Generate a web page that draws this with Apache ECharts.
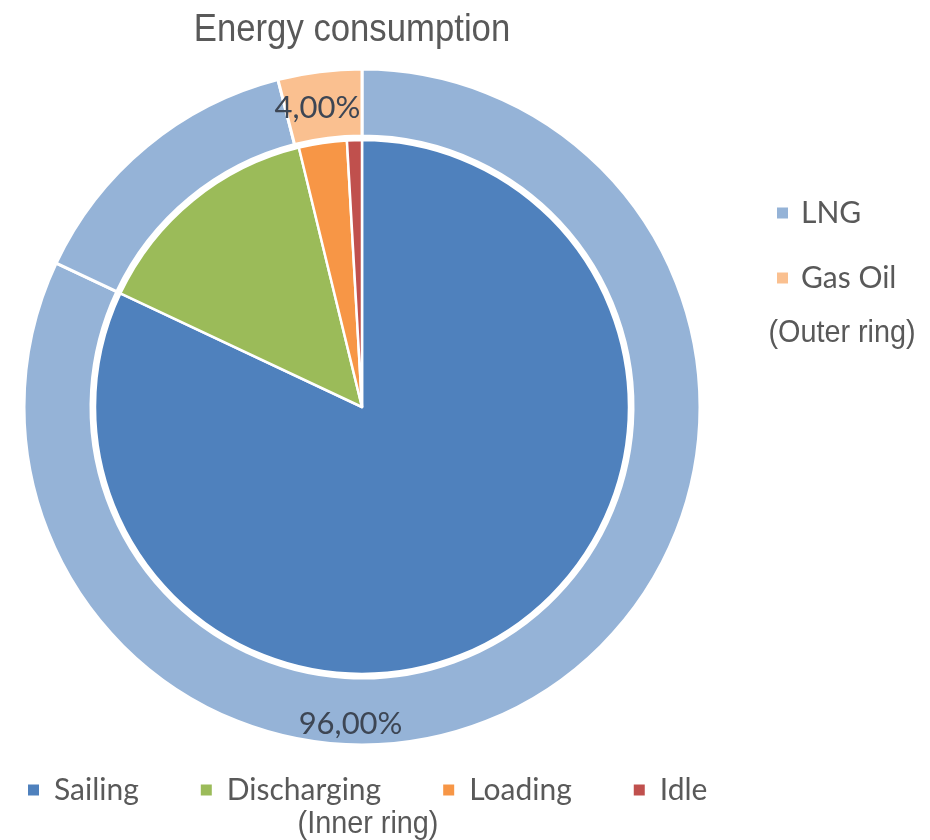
<!DOCTYPE html>
<html>
<head>
<meta charset="utf-8">
<script src="https://cdn.jsdelivr.net/npm/echarts@6/dist/echarts.min.js"></script>
<style>
html,body{margin:0;padding:0;background:#fff;}
#c{width:930px;height:840px;}
</style>
</head>
<body>
<div id="c"></div>
<script>
// Inner ring (operating phases)
var innerNames = ['Sailing', 'Discharging', 'Loading', 'Idle'];
var innerValues = [82.0, 14.2, 2.9, 0.9];
var innerColors = ['#4F81BD', '#9BBB59', '#F79646', '#C0504D'];

// Outer ring (fuel type) – LNG drawn in two segments as in the original
var outerNames = ['LNG', 'LNG', 'Gas Oil'];
var outerValues = [82.0, 14.0, 4.0];
var outerColors = ['#95B3D7', '#95B3D7', '#FAC090'];

// Fuel totals used for the ring labels
var fuelNames = ['LNG', 'Gas Oil'];
var fuelValues = [96.0, 4.0];

var titleText = 'Energy consumption';
var outerNote = '(Outer ring)';
var innerNote = '(Inner ring)';

var fmt = function (v) { return v.toFixed(2).replace('.', ',') + '%'; };
var fuelTotal = fuelValues.reduce(function (a, b) { return a + b; }, 0);

var chart = echarts.init(document.getElementById('c'), null, {renderer: 'canvas'});

var center = [362, 407];
var narrowFont = 'Liberation Sans, Arial, sans-serif';

chart.setOption({
  backgroundColor: '#ffffff',
  animation: false,
  graphic: [
    {
      type: 'text', x: 352, y: 30, scaleX: 0.89, silent: true,
      style: {text: titleText, fontFamily: narrowFont, fontSize: 39, fill: '#595959', align: 'center', verticalAlign: 'middle'}
    },
    {
      type: 'text', x: 842, y: 333, scaleX: 0.9, silent: true,
      style: {text: outerNote, fontFamily: narrowFont, fontSize: 32, fill: '#595959', align: 'center', verticalAlign: 'middle'}
    },
    {
      type: 'text', x: 368, y: 824, scaleX: 0.9, silent: true,
      style: {text: innerNote, fontFamily: narrowFont, fontSize: 32, fill: '#595959', align: 'center', verticalAlign: 'middle'}
    }
  ],
  legend: [
    {
      data: ['LNG', 'Gas Oil'],
      orient: 'vertical',
      left: 770, top: 193,
      itemWidth: 13, itemHeight: 13, itemGap: 35,
      icon: 'rect',
      textStyle: {fontFamily: 'Lato', fontSize: 30, color: '#595959', padding: [0, 0, 0, 7]}
    },
    {
      data: innerNames,
      orient: 'horizontal',
      left: 21, top: 770,
      itemWidth: 13, itemHeight: 13, itemGap: 60,
      icon: 'rect',
      textStyle: {fontFamily: 'Lato', fontSize: 30, color: '#595959', padding: [0, 0, 0, 9]}
    }
  ],
  series: [
    {
      name: 'Outer',
      type: 'pie',
      center: center,
      radius: [271, 338],
      startAngle: 90,
      clockwise: true,
      silent: true,
      label: {show: false},
      labelLine: {show: false},
      itemStyle: {borderColor: '#ffffff', borderWidth: 3},
      data: outerNames.map(function (n, i) {
        return {name: n, value: outerValues[i], itemStyle: {color: outerColors[i]}};
      })
    },
    {
      name: 'Inner',
      type: 'pie',
      center: center,
      radius: [0, 267],
      startAngle: 90,
      clockwise: true,
      silent: true,
      label: {show: false},
      labelLine: {show: false},
      itemStyle: {borderColor: '#ffffff', borderWidth: 2.5},
      data: innerNames.map(function (n, i) {
        return {name: n, value: innerValues[i], itemStyle: {color: innerColors[i]}};
      })
    },
    {
      name: 'FuelLabels',
      type: 'pie',
      center: center,
      radius: [271, 338],
      startAngle: 90,
      clockwise: true,
      silent: true,
      z: 5,
      labelLine: {show: false},
      itemStyle: {color: 'rgba(0,0,0,0)', borderWidth: 0},
      label: {
        show: true,
        position: 'inside',
        fontFamily: 'Lato',
        fontSize: 31,
        color: '#3d4654',
        formatter: function (p) { return fmt(p.value / fuelTotal * 100); }
      },
      data: fuelNames.map(function (n, i) {
        var d = {name: n, value: fuelValues[i]};
        if (i === 0) { d.label = {offset: [-50, 12]}; }
        else { d.label = {offset: [-6, 6]}; }
        return d;
      })
    }
  ]
});
</script>
</body>
</html>
